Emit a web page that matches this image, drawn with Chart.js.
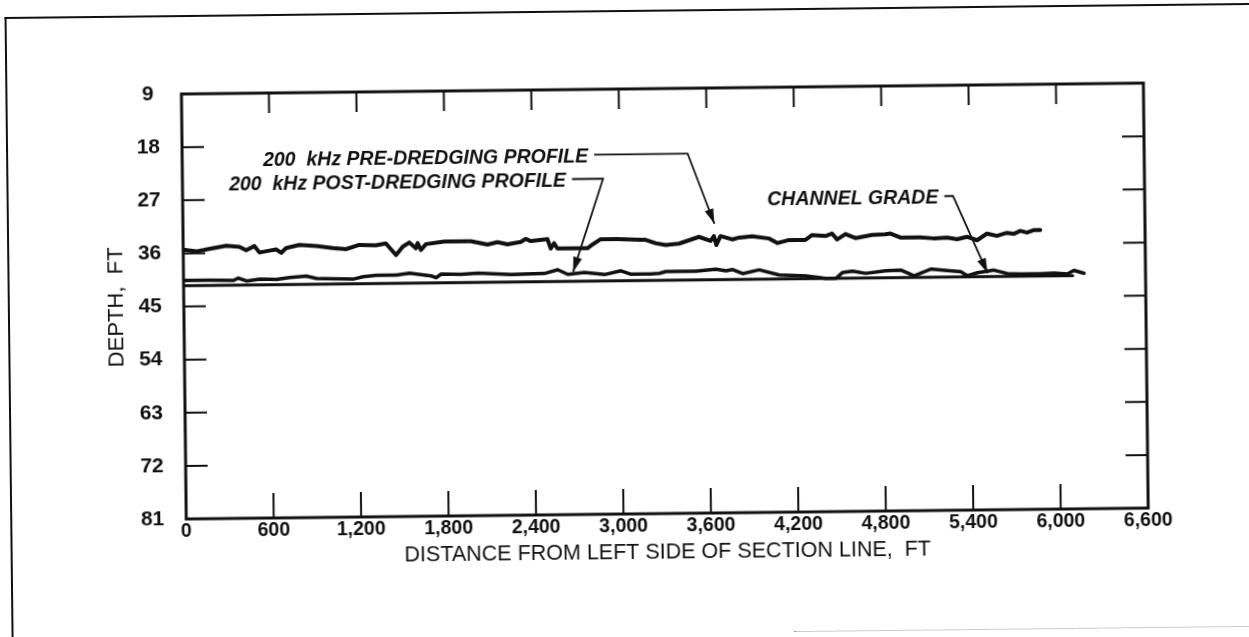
<!DOCTYPE html>
<html>
<head>
<meta charset="utf-8">
<script src="https://cdn.jsdelivr.net/npm/chart.js@4.4.0/dist/chart.umd.min.js"></script>
<style>
  html, body { margin: 0; padding: 0; background: #fff; }
  #page { position: relative; width: 1249px; height: 637px; overflow: hidden; background: #fff; }
  /* the scan is tilted a little, so the whole sheet is turned with it */
  #sheet { position: absolute; left: 0; top: 0; width: 1249px; height: 637px;
           transform: rotate(-0.65deg); transform-origin: 624px 318px; }
  #frame { position: absolute; left: 8px; top: 10px; width: 1400px; height: 700px;
           border-left: 2px solid #111; border-top: 2px solid #111; }
  #foot { position: absolute; left: 790px; top: 633px; width: 480px; border-top: 1px dotted #999; }
  canvas { position: absolute; left: 0; top: 0; }
</style>
</head>
<body>
<div id="page">
  <div id="sheet">
    <div id="frame"></div>
    <div id="foot"></div>
    <canvas id="profile-chart" width="1249" height="637"></canvas>
  </div>
</div>
<script>
const xTicks = [0, 600, 1200, 1800, 2400, 3000, 3600, 4200, 4800, 5400, 6000, 6600];
const yTicks = [9, 18, 27, 36, 45, 54, 63, 72, 81];

// 200 kHz pre-dredging profile (distance ft, depth ft)
const preDist = [0, 89, 158, 295, 386, 432, 489, 523, 592, 637, 672, 706, 797, 912, 1026, 1117, 1208, 1323, 1391, 1460,
  1506, 1551, 1597, 1609, 1631, 1666, 1791, 1974, 2088, 2157, 2225, 2317, 2351, 2385, 2500, 2522, 2545, 2568, 2705, 2774,
  2808, 2865, 2979, 3139, 3173, 3242, 3310, 3402, 3539, 3619, 3642, 3658, 3687, 3768, 3813, 3905, 4018, 4076, 4156, 4270,
  4316, 4407, 4453, 4487, 4544, 4613, 4727, 4818, 4853, 4921, 5058, 5149, 5241, 5310, 5378, 5447, 5515, 5584, 5652, 5698,
  5744, 5790, 5835, 5881];
const preDepth = [35.4, 35.7, 35.4, 34.8, 35.0, 35.6, 34.9, 36.0, 35.7, 35.5, 36.1, 35.3, 34.8, 35.0, 35.4, 35.6, 34.9, 35.0, 34.7, 36.7,
  35.3, 34.6, 35.6, 34.7, 35.9, 34.9, 34.5, 34.5, 35.1, 34.7, 35.1, 34.7, 34.2, 34.6, 34.3, 35.9, 35.0, 35.9, 35.9, 35.9,
  35.3, 34.4, 34.4, 34.6, 34.6, 35.2, 35.5, 35.3, 34.2, 34.9, 34.1, 35.6, 34.1, 34.7, 34.4, 34.2, 34.6, 35.4, 34.9, 34.9,
  34.1, 34.3, 33.9, 34.9, 34.0, 34.7, 34.2, 34.1, 34.0, 34.7, 34.7, 34.9, 34.8, 35.1, 34.7, 35.3, 34.2, 34.6, 34.1, 34.3,
  33.8, 34.1, 33.7, 33.7];

// 200 kHz post-dredging profile
const postDist = [0, 180, 341, 375, 432, 523, 637, 729, 843, 912, 1026, 1163, 1232, 1323, 1460, 1551, 1700, 1734, 1768, 1905,
  2020, 2248, 2476, 2568, 2637, 2751, 2888, 3002, 3071, 3208, 3265, 3310, 3516, 3653, 3722, 3768, 3836, 3950, 4087, 4270,
  4407, 4476, 4522, 4590, 4681, 4818, 4921, 5012, 5127, 5241, 5333, 5378, 5447, 5561, 5652, 5744, 5881, 5972, 6064, 6109,
  6178];
const postDepth = [40.6, 40.6, 40.7, 40.3, 40.8, 40.5, 40.6, 40.3, 40.1, 40.5, 40.6, 40.7, 40.3, 40.1, 40.1, 39.8, 40.3, 40.6, 40.0, 40.1,
  39.9, 40.2, 40.1, 39.5, 40.3, 40.0, 40.4, 39.8, 40.4, 40.4, 40.3, 40.0, 40.0, 39.7, 40.0, 39.8, 40.5, 39.9, 40.8, 41.0,
  41.5, 41.5, 40.5, 40.3, 40.7, 40.3, 40.2, 41.2, 40.1, 40.4, 40.6, 41.3, 40.8, 40.4, 41.0, 41.1, 41.1, 41.0, 41.2, 40.6,
  41.1];

// channel grade
const gradeDist = [0, 6100];
const gradeDepth = [41.5, 41.5];

// callouts: text anchor, elbow of the leader, arrow tip (distance, depth)
const notes = [
  { label: '200  kHz PRE-DREDGING PROFILE', textAt: [555, 20.4], elbow: 3468, tip: [3646, 32.0] },
  { label: '200  kHz POST-DREDGING PROFILE', textAt: [320, 24.5], elbow: 2886, tip: [2673, 39.9] },
  { label: 'CHANNEL GRADE', textAt: [4010, 28.1], elbow: 5285, tip: [5517, 40.9] }
];

const FONT = '"Liberation Sans", Arial, Helvetica, sans-serif';
const INK = '#111';

const toPoints = (xs, ys) => xs.map((x, i) => ({ x: x, y: ys[i] }));

// frame, inward ticks and callouts
const frameTicks = {
  id: 'frameTicks',
  afterDatasetsDraw(chart) {
    const { ctx, chartArea: a, scales: { x, y } } = chart;
    ctx.save();
    ctx.strokeStyle = INK;
    ctx.fillStyle = INK;
    ctx.lineWidth = 3;
    ctx.strokeRect(a.left, a.top, a.right - a.left, a.bottom - a.top);

    ctx.lineWidth = 2;
    ctx.beginPath();
    xTicks.slice(1, -1).forEach(v => {
      const px = x.getPixelForValue(v);
      ctx.moveTo(px, a.top);
      ctx.lineTo(px, a.top + 20);
      ctx.moveTo(px, a.bottom);
      ctx.lineTo(px, a.bottom - 25);
    });
    yTicks.slice(1, -1).forEach(v => {
      const py = y.getPixelForValue(v);
      ctx.moveTo(a.left, py);
      ctx.lineTo(a.left + 22, py);
      ctx.moveTo(a.right, py);
      ctx.lineTo(a.right - 22, py);
    });
    ctx.stroke();

    ctx.font = 'italic bold 19.5px ' + FONT;
    ctx.textBaseline = 'middle';
    ctx.textAlign = 'left';
    ctx.lineWidth = 1.8;
    notes.forEach(n => {
      const tx = x.getPixelForValue(n.textAt[0]);
      const ty = y.getPixelForValue(n.textAt[1]);
      ctx.fillText(n.label, tx, ty);
      const sx = tx + ctx.measureText(n.label).width + 6;
      const ex = x.getPixelForValue(n.elbow);
      const ly = ty - 2;
      const ax = x.getPixelForValue(n.tip[0]);
      const ay = y.getPixelForValue(n.tip[1]);
      ctx.beginPath();
      ctx.moveTo(sx, ly);
      ctx.lineTo(ex, ly);
      ctx.lineTo(ax, ay);
      ctx.stroke();
      const ang = Math.atan2(ay - ly, ax - ex);
      const L = 15, W = 4.5;
      ctx.beginPath();
      ctx.moveTo(ax, ay);
      ctx.lineTo(ax - L * Math.cos(ang) + W * Math.sin(ang), ay - L * Math.sin(ang) - W * Math.cos(ang));
      ctx.lineTo(ax - L * Math.cos(ang) - W * Math.sin(ang), ay - L * Math.sin(ang) + W * Math.cos(ang));
      ctx.closePath();
      ctx.fill();
    });
    ctx.restore();
  }
};

new Chart(document.getElementById('profile-chart'), {
  type: 'line',
  data: {
    datasets: [
      { label: '200 kHz PRE-DREDGING PROFILE', data: toPoints(preDist, preDepth), borderColor: INK, borderWidth: 4 },
      { label: '200 kHz POST-DREDGING PROFILE', data: toPoints(postDist, postDepth), borderColor: INK, borderWidth: 3.5 },
      { label: 'CHANNEL GRADE', data: toPoints(gradeDist, gradeDepth), borderColor: INK, borderWidth: 3 }
    ]
  },
  options: {
    responsive: false,
    animation: false,
    devicePixelRatio: 1,
    elements: {
      point: { radius: 0 },
      line: { tension: 0, borderJoinStyle: 'round', borderCapStyle: 'round' }
    },
    layout: { padding: { left: 0, top: 89, right: 103, bottom: 0 } },
    plugins: { legend: { display: false }, tooltip: { enabled: false } },
    scales: {
      x: {
        type: 'linear',
        min: 0,
        max: 6600,
        afterBuildTicks: s => { s.ticks = xTicks.map(v => ({ value: v })); },
        afterFit: s => { s.height = 123; },
        grid: { display: false, drawTicks: false },
        border: { display: false },
        ticks: {
          padding: 1,
          color: INK,
          maxRotation: 0,
          autoSkip: false,
          font: { family: FONT, size: 19.5, weight: 'bold' },
          callback: v => v.toLocaleString('en-US')
        },
        title: {
          display: true,
          text: 'DISTANCE FROM LEFT SIDE OF SECTION LINE,  FT',
          color: INK,
          font: { family: FONT, size: 21.5 },
          padding: { top: 0, bottom: 71 }
        }
      },
      y: {
        type: 'linear',
        reverse: true,
        min: 9,
        max: 81,
        afterBuildTicks: s => { s.ticks = yTicks.map(v => ({ value: v })); },
        afterFit: s => { s.width = 184; },
        grid: { display: false, drawTicks: false },
        border: { display: false },
        ticks: {
          crossAlign: 'center',
          padding: 22,
          color: INK,
          font: { family: FONT, size: 21, weight: 'bold' }
        },
        title: {
          display: true,
          text: 'DEPTH,  FT',
          color: INK,
          font: { family: FONT, size: 22 },
          padding: { top: 104, bottom: 0 }
        }
      }
    }
  },
  plugins: [frameTicks]
});
</script>
</body>
</html>
